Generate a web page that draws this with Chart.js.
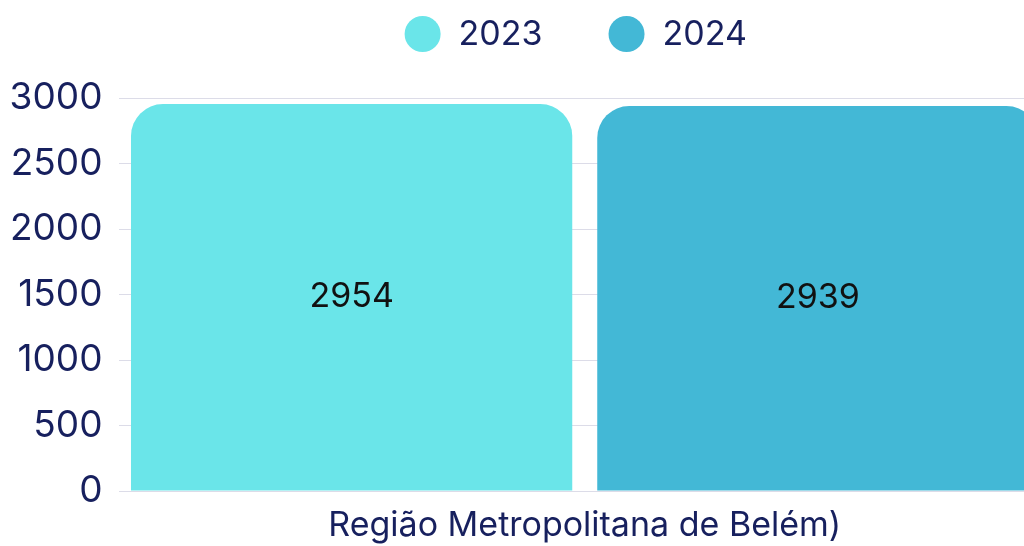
<!DOCTYPE html>
<html>
<head>
    <title>Região Metropolitana de Belém</title>
    <script src="https://cdn.jsdelivr.net/npm/chart.js"></script>
    <style>
        html, body { margin: 0; padding: 0; background: #fff; overflow: hidden; }
        #wrap { width: 1051px; height: 546px; position: relative; }
    </style>
</head>
<body>
    <div id="wrap">
        <canvas id="barChart"></canvas>
    </div>

    <script>
        // datos
        var categorias = ['Região Metropolitana de Belém)'];
        var anos = ['2023', '2024'];
        var valores2023 = [2954];
        var valores2024 = [2939];
        var coresAnos = ['#6ae5e9', '#43b8d6'];
        var yTicks = [0, 500, 1000, 1500, 2000, 2500, 3000];

        var navy = '#17205e';
        var fonte = 'Inter, "Noto Sans", sans-serif';
        var tamFonte = 34;

        // etiquetas de valor en el centro de cada barra
        var valoresPlugin = {
            id: 'valores',
            afterDatasetsDraw: function (chart) {
                var ctx = chart.ctx;
                ctx.save();
                ctx.font = tamFonte + 'px ' + fonte;
                ctx.fillStyle = '#111111';
                ctx.textAlign = 'center';
                ctx.textBaseline = 'middle';
                chart.data.datasets.forEach(function (ds, i) {
                    chart.getDatasetMeta(i).data.forEach(function (bar, j) {
                        ctx.fillText(String(ds.data[j]), bar.x, (bar.y + bar.base) / 2);
                    });
                });
                ctx.restore();
            }
        };

        // leyenda con círculos
        var leyendaPlugin = {
            id: 'leyenda',
            afterDraw: function (chart) {
                var ctx = chart.ctx;
                var area = chart.chartArea;
                var r = 18, gapTexto = 18, gapItems = 66, cy = 34, desvio = -9;
                ctx.save();
                ctx.font = tamFonte + 'px ' + fonte;
                var anchos = chart.data.datasets.map(function (ds) {
                    return r * 2 + gapTexto + ctx.measureText(ds.label).width;
                });
                var total = anchos.reduce(function (a, b) { return a + b; }, 0) + gapItems * (anchos.length - 1);
                var x = (area.left + area.right) / 2 - total / 2 + desvio;
                chart.data.datasets.forEach(function (ds, i) {
                    ctx.fillStyle = ds.backgroundColor;
                    ctx.beginPath();
                    ctx.arc(x + r, cy, r, 0, Math.PI * 2);
                    ctx.fill();
                    ctx.fillStyle = navy;
                    ctx.textAlign = 'left';
                    ctx.textBaseline = 'middle';
                    ctx.fillText(ds.label, x + r * 2 + gapTexto, cy + 1);
                    x += anchos[i] + gapItems;
                });
                ctx.restore();
            }
        };

        var ctx = document.getElementById('barChart').getContext('2d');
        var chart = new Chart(ctx, {
            type: 'bar',
            data: {
                labels: categorias,
                datasets: [
                    {
                        label: anos[0],
                        data: valores2023,
                        backgroundColor: coresAnos[0],
                        borderRadius: { topLeft: 32, topRight: 32, bottomLeft: 0, bottomRight: 0 },
                        borderSkipped: false
                    },
                    {
                        label: anos[1],
                        data: valores2024,
                        backgroundColor: coresAnos[1],
                        borderRadius: { topLeft: 32, topRight: 32, bottomLeft: 0, bottomRight: 0 },
                        borderSkipped: false
                    }
                ]
            },
            options: {
                responsive: true,
                maintainAspectRatio: false,
                animation: false,
                layout: { padding: { top: 98, right: 0, left: 0, bottom: 0 } },
                datasets: {
                    bar: { categoryPercentage: 1.0, barPercentage: 0.9464 }
                },
                plugins: {
                    legend: { display: false },
                    tooltip: { enabled: false }
                },
                scales: {
                    x: {
                        grid: { display: false, drawTicks: false },
                        border: { display: false },
                        ticks: {
                            color: navy,
                            font: { family: fonte, size: tamFonte },
                            padding: 14,
                            maxRotation: 0
                        },
                        afterFit: function (scale) { scale.height = 55; }
                    },
                    y: {
                        min: 0,
                        max: 3000,
                        afterBuildTicks: function (scale) {
                            scale.ticks = yTicks.map(function (v) { return { value: v }; });
                        },
                        grid: { color: '#dcdce8', lineWidth: 1, drawTicks: false },
                        border: { display: false },
                        ticks: {
                            color: navy,
                            font: { family: fonte, size: 37 },
                            padding: 16,
                            callback: function (v) { return String(v); }
                        },
                        afterFit: function (scale) { scale.width = 118.5; }
                    }
                }
            },
            plugins: [valoresPlugin, leyendaPlugin]
        });
    </script>
</body>
</html>
